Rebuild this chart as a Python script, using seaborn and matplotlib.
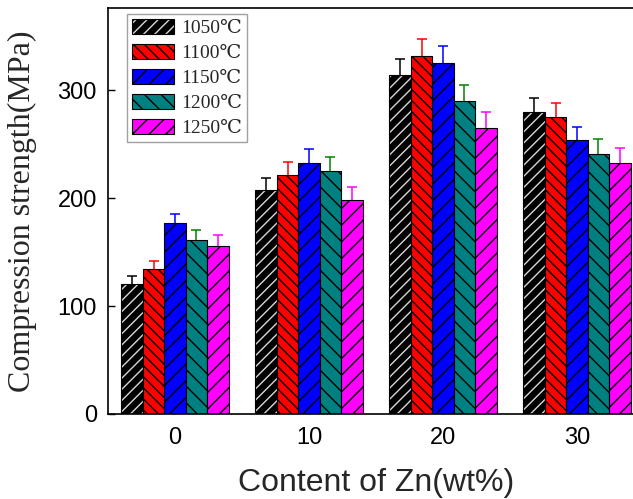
import numpy as np
import pandas as pd
import matplotlib
matplotlib.use('Agg')
import matplotlib.pyplot as plt
import seaborn as sns
from matplotlib.colors import to_rgba

# ---------------- data ----------------
zn_content = ['0', '10', '20', '30']
temperatures = ['1050℃', '1100℃', '1150℃', '1200℃', '1250℃']
strength_1050 = [120, 207, 314, 280]
strength_1100 = [134, 221, 332, 275]
strength_1150 = [177, 232, 325, 254]
strength_1200 = [161, 225, 290, 241]
strength_1250 = [156, 198, 265, 232]
err_1050 = [8, 12, 15, 13]
err_1100 = [8, 12, 15, 13]
err_1150 = [8, 13, 16, 12]
err_1200 = [9, 13, 15, 14]
err_1250 = [10, 12, 15, 14]
y_ticks = [0, 100, 200, 300]

strengths = [strength_1050, strength_1100, strength_1150, strength_1200, strength_1250]
errors = [err_1050, err_1100, err_1150, err_1200, err_1250]

bar_colors = ['#000000', '#ff0000', '#0000ff', '#008080', '#ff00ff']
err_colors = ['#000000', '#ff0000', '#0000ff', '#008000', '#ff00ff']
hatches = ['///', '\\\\\\', '//', '\\\\', '//']
hatch_colors = ['#d8d8d8', '#000000', '#000000', '#000000', '#000000']

rows = []
for t, vals in zip(temperatures, strengths):
    for z, v in zip(zn_content, vals):
        rows.append({'zn': z, 'temp': t, 'strength': v})
df = pd.DataFrame(rows)

# ---------------- style ----------------
sns.set_theme(style='white')
plt.rcParams['font.family'] = ['Liberation Sans', 'DejaVu Sans']
plt.rcParams['hatch.linewidth'] = 1.0

fig = plt.figure(figsize=(6.33, 4.99), dpi=100)
ax = fig.add_axes([108 / 633, 85 / 499, 536 / 633, 406 / 499])

sns.barplot(data=df, x='zn', y='strength', hue='temp', order=zn_content,
            hue_order=temperatures, palette=bar_colors, errorbar=None,
            width=0.8, gap=0, saturation=1, edgecolor='black', linewidth=0.8,
            legend=False, ax=ax)

bar_conts = list(ax.containers)
for i, cont in enumerate(bar_conts):
    for p in cont.patches:
        p.set_hatch(hatches[i])
        p.set_edgecolor('black')
        if hasattr(p, 'set_hatchcolor'):
            p.set_hatchcolor(hatch_colors[i])
        else:
            p._hatch_color = to_rgba(hatch_colors[i])
    xs = [p.get_x() + p.get_width() / 2 for p in cont.patches]
    eb = ax.errorbar(xs, strengths[i], yerr=[np.zeros(len(errors[i])), errors[i]],
                     fmt='none', ecolor=err_colors[i], elinewidth=1.1,
                     capsize=3.5, capthick=1.1, zorder=5)
    caps = eb[1]
    if len(caps) >= 2:
        caps[0].set_visible(False)

ax.set_xlim(-0.5, 3.5)
ax.set_ylim(0, 376)
ax.set_yticks(y_ticks)
ax.set_yticklabels([str(v) for v in y_ticks])

for s in ax.spines.values():
    s.set_color('black')
    s.set_linewidth(1.2)

ax.tick_params(axis='both', direction='in', length=5, width=1.0, colors='black',
               labelsize=17, left=True, bottom=True, top=False, right=False)
ax.tick_params(axis='y', pad=8)
ax.tick_params(axis='x', pad=9)

ax.set_xlabel('Content of Zn(wt%)', fontsize=23, family=['Liberation Sans', 'DejaVu Sans'],
              labelpad=14)
ax.set_ylabel('Compression strength(MPa)', fontsize=23,
              family=['Liberation Serif', 'DejaVu Serif'])
ax.yaxis.set_label_coords(-0.1325, 0.5)

leg = ax.legend(bar_conts, temperatures, loc='upper left',
                bbox_to_anchor=(0.035, 0.985), borderaxespad=0,
                prop={'family': ['Liberation Serif', 'DejaVu Serif', 'Noto Sans CJK SC'], 'size': 14},
                frameon=True, fancybox=False, edgecolor='#888888',
                handlelength=2.2, handleheight=0.85, labelspacing=0.33,
                handletextpad=0.35, borderpad=0.25)
leg.get_frame().set_linewidth(1.0)

fig.savefig('out.png', dpi=100)
